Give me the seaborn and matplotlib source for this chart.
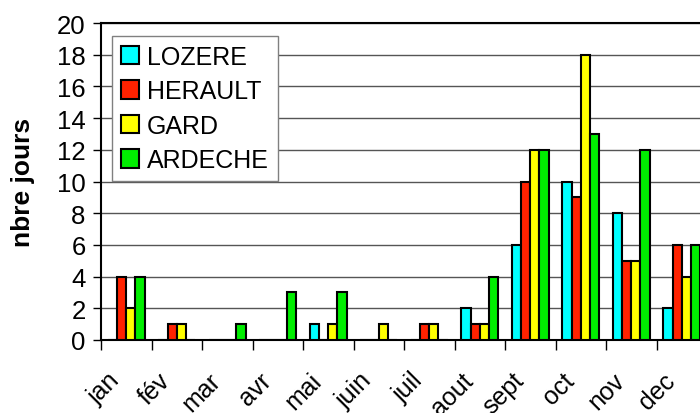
import pandas as pd
import matplotlib.pyplot as plt
import matplotlib.transforms as mtransforms
import seaborn as sns

# -----------------------------
# Data
# -----------------------------
MONTHS = ["jan", "fév", "mar", "avr", "mai", "juin", "juil", "aout", "sept", "oct", "nov", "dec"]
LOZERE = [0, 0, 0, 0, 1, 0, 0, 2, 6, 10, 8, 2]
HERAULT = [4, 1, 0, 0, 0, 0, 1, 1, 10, 9, 5, 6]
GARD = [2, 1, 0, 0, 1, 1, 1, 1, 12, 18, 5, 4]
ARDECHE = [4, 0, 1, 3, 3, 0, 0, 4, 12, 13, 12, 6]

SERIES = {"LOZERE": LOZERE, "HERAULT": HERAULT, "GARD": GARD, "ARDECHE": ARDECHE}
COLORS = ["#00ffff", "#ff2200", "#ffff00", "#00ee00"]

# -----------------------------
# Style
# -----------------------------
sns.set_theme(style="white")
plt.rcParams["font.family"] = ["Liberation Sans", "DejaVu Sans"]

rows = []
for name, vals in SERIES.items():
    for m, v in zip(MONTHS, vals):
        rows.append({"mois": m, "region": name, "jours": v})
df = pd.DataFrame(rows)

fig = plt.figure(figsize=(7.0, 4.14), dpi=100)
ax = fig.add_axes([101 / 700, 73 / 414, 606 / 700, 317 / 414])

sns.barplot(
    data=df, x="mois", y="jours", hue="region",
    order=MONTHS, hue_order=list(SERIES), palette=COLORS,
    width=0.73, edgecolor="black", linewidth=1.5, saturation=1,
    ax=ax, zorder=3,
)

ax.set_xlim(-0.5, 11.5)
ax.set_ylim(0, 20)
ax.set_yticks(range(0, 21, 2))
ax.yaxis.grid(True, color="#555555", linewidth=1)
ax.xaxis.grid(False)
ax.set_axisbelow(True)

for side in ["left", "top", "bottom"]:
    ax.spines[side].set_visible(True)
    ax.spines[side].set_color("black")
    ax.spines[side].set_linewidth(1.5)
ax.spines["right"].set_visible(False)

ax.tick_params(axis="y", which="major", direction="out", length=6, width=1,
               color="black", labelsize=18.5, left=True, pad=5, labelcolor="black")
ax.tick_params(axis="x", which="major", length=0, labelsize=18, pad=20, labelcolor="black")
ax.set_xticks([i - 0.5 for i in range(13)], minor=True)
ax.tick_params(axis="x", which="minor", direction="out", length=7, width=1,
               color="black", bottom=True)
ax.set_xticks(range(12))
ax.set_xticklabels(MONTHS, rotation=45, ha="right", rotation_mode="anchor")
# nudge the rotated month labels to the left, like the original
shift = mtransforms.ScaledTranslation(-19 / 100, 0, fig.dpi_scale_trans)
for lab in ax.get_xticklabels():
    lab.set_transform(lab.get_transform() + shift)

ax.set_xlabel("")
ax.set_ylabel("nbre jours", fontsize=19, fontweight="bold", labelpad=16, color="black")

leg = ax.legend(
    loc="upper left", bbox_to_anchor=(0.018, 0.959), borderaxespad=0, fontsize=18,
    frameon=True, fancybox=False, edgecolor="#808080", framealpha=1,
    handlelength=0.75, handleheight=0.75, handletextpad=0.3,
    labelspacing=0.42, borderpad=0.35, title=None,
)
leg.get_frame().set_linewidth(1)
for t in leg.get_texts():
    t.set_color("black")

fig.savefig("out.png", dpi=100)
